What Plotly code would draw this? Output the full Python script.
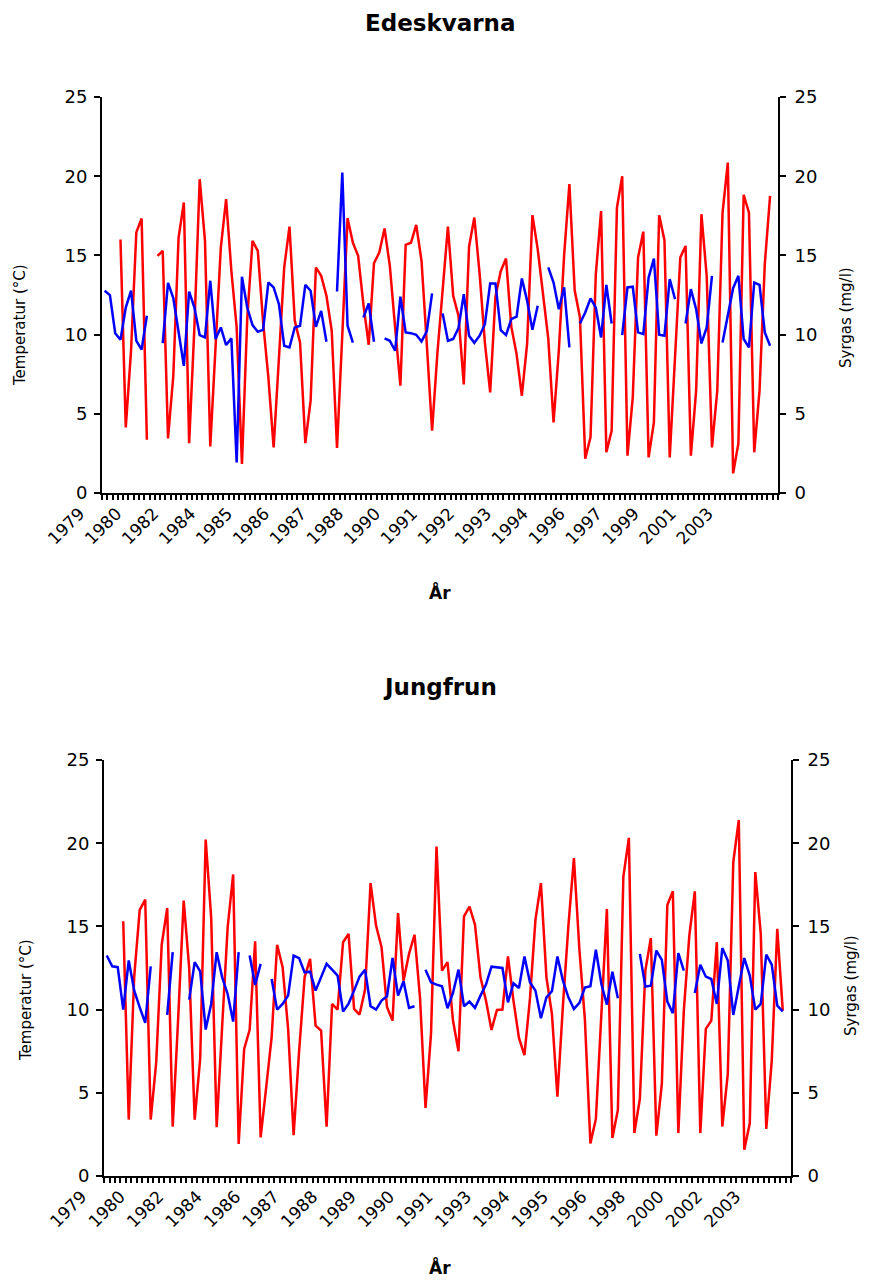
import plotly.graph_objects as go

# ---------------- data ----------------
N = None
top_title = "Edeskvarna"
bot_title = "Jungfrun"

top_labels = ["1979", "1980", "1982", "1984", "1985", "1986", "1987", "1988", "1990",
              "1991", "1992", "1993", "1994", "1996", "1997", "1999", "2001", "2003"]
bot_labels = ["1979", "1980", "1982", "1984", "1986", "1987", "1988", "1989", "1990",
              "1991", "1993", "1994", "1995", "1996", "1998", "2000", "2002", "2003"]
label_step = 7
top_n_categories = 128
bot_n_categories = 125

top_temp = [N, N, N, 16.0, 4.14, 9.0, 16.45, 17.33, 3.36, N,
            14.97, 15.29, 3.45, 7.4, 16.13, 18.34, 3.15, 10.5, 19.81, 15.92,
            2.94, 9.2, 15.5, 18.55, 14.0, 10.45, 1.83, 11.0, 15.92, 15.29,
            10.8, 7.3, 2.88, 8.5, 14.24, 16.82, 10.87, 9.5, 3.15, 5.83,
            14.24, 13.71, 12.45, 10.24, 2.84, 10.0, 17.35, 15.8, 14.97, 11.9,
            9.36, 14.5, 15.18, 16.7, 14.34, 10.45, 6.77, 15.67, 15.8, 16.93,
            14.66, 9.4, 3.93, 8.8, 12.8, 16.82, 12.45, 11.2, 6.85, 15.55,
            17.39, 13.85, 9.5, 6.35, 12.4, 14.0, 14.8, 10.5, 8.77, 6.14,
            9.45, 17.54, 15.4, 12.6, 9.75, 4.46, 9.0, 15.0, 19.5, 12.8,
            11.08, 2.16, 3.53, 13.8, 17.8, 2.57, 3.93, 18.0, 20.0, 2.36,
            6.04, 14.87, 16.5, 2.25, 4.46, 17.54, 15.96, 2.25, 8.77, 14.87,
            15.6, 2.36, 6.46, 17.6, 13.7, 2.88, 6.46, 17.7, 20.86, 1.24,
            3.13, 18.82, 17.7, 2.57, 6.46, 14.45, 18.76]

top_o2 = [12.77, 12.49, 10.09, 9.67, 11.71, 12.77, 9.61, 9.06, 11.19, N,
          N, 9.46, 13.27, 12.30, 10.24, 8.03, 12.72, 11.71, 9.97, 9.82,
          13.40, 9.72, 10.45, 9.34, 9.76, 1.93, 13.65, 11.71, 10.6, 10.18,
          10.3, 13.29, 12.98, 11.92, 9.3, 9.19, 10.45, 10.56, 13.14, 12.77,
          10.49, 11.5, 9.55, N, 12.72, 20.23, 10.56, 9.5, N, 11.08,
          11.97, 9.55, N, 9.76, 9.61, 8.98, 12.39, 10.14, 10.09, 9.99,
          9.57, 10.2, 12.6, N, 11.34, 9.61, 9.72, 10.41, 12.55, 9.93,
          9.48, 9.93, 10.66, 13.23, 13.23, 10.28, 9.97, 10.98, 11.13, 13.54,
          12.13, 10.3, 11.82, N, 14.24, 13.29, 11.6, 12.98, 9.19, N,
          10.7, 11.4, 12.28, 11.71, 9.82, 13.14, 10.7, N, 9.97, 12.98,
          13.02, 10.14, 10.03, 13.6, 14.8, 9.99, 9.93, 13.5, 12.24, N,
          10.7, 12.87, 11.6, 9.44, 10.45, 13.71, N, 9.5, 11.3, 12.93,
          13.71, 9.72, 9.19, 13.29, 13.14, 10.14, 9.3]

bot_temp = [N, N, N, 15.31, 3.39, 12.0, 15.99, 16.61, 3.39, 6.83,
            13.9, 16.1, 2.97, 9.5, 16.55, 12.5, 3.39, 7.03, 20.22, 15.55,
            2.93, 9.0, 14.95, 18.12, 1.92, 7.64, 8.78, 14.1, 2.32, 5.3,
            8.34, 13.9, 12.55, 8.84, 2.46, 7.5, 11.94, 13.05, 9.04, 8.74,
            2.97, 10.34, 10.0, 14.05, 14.55, 10.04, 9.7, 11.2, 17.6, 15.05,
            13.75, 10.14, 9.34, 15.8, 11.74, 13.35, 14.5, 10.7, 4.09, 8.54,
            19.8, 12.34, 12.85, 9.34, 7.5, 15.6, 16.19, 15.1, 11.94, 10.54,
            8.78, 9.98, 10.0, 13.2, 10.54, 8.3, 7.27, 10.64, 15.39, 17.6,
            11.94, 9.74, 4.77, 10.24, 15.05, 19.1, 13.6, 9.4, 1.96, 3.43,
            10.0, 16.05, 2.28, 3.97, 18.0, 20.32, 2.58, 4.63, 12.34, 14.3,
            2.42, 5.53, 16.29, 17.11, 2.58, 9.94, 14.45, 17.11, 2.58, 8.84,
            9.34, 14.05, 2.97, 6.13, 18.86, 21.4, 1.58, 3.17, 18.26, 14.55,
            2.83, 6.93, 14.85, 9.94]

bot_o2 = [13.25, 12.6, 12.55, 10.0, 12.95, 11.14, 10.14, 9.2, 12.6, N,
          N, 9.68, 13.45, N, N, 10.6, 12.85, 12.3, 8.8, 10.34,
          13.45, 11.94, 10.94, 9.28, 13.45, N, 13.25, 11.48, 12.75, N,
          11.84, 10.0, 10.34, 10.84, 13.25, 13.09, 12.24, 12.28, 11.14, 11.94,
          12.75, 12.4, 12.04, 9.88, 10.36, 11.14, 11.98, 12.4, 10.2, 10.0,
          10.54, 10.8, 13.1, 10.84, 11.7, 10.1, 10.2, N, 12.4, 11.64,
          11.5, 11.4, 10.08, 11.0, 12.4, 10.2, 10.48, 10.1, 10.84, 11.5,
          12.58, 12.54, 12.5, 10.44, 11.58, 11.3, 13.19, 11.64, 11.14, 9.48,
          10.74, 11.1, 13.19, 11.74, 10.74, 10.04, 10.4, 11.32, 11.4, 13.6,
          11.54, 10.3, 12.28, 10.68, N, N, N, 13.35, 11.38, 11.44,
          13.55, 12.99, 10.48, 9.78, 13.39, 12.34, N, 11.0, 12.7, 11.98,
          11.84, 10.34, 13.7, 12.95, 9.68, 11.4, 13.1, 12.04, 10.0, 10.34,
          13.3, 12.7, 10.24, 9.9]

# ---------------- figure ----------------
OFF = 8                      # page body margin of the html page
W, H = 870 - OFF, 1286 - 2 * OFF
FONT = "DejaVu Sans"
RED = "#ff0000"
BLUE = "#0000ff"

fig = go.Figure()

def px_x(p):
    return (p - OFF) / W

def px_y(p):
    return 1 - (p - OFF) / H

panels = [
    dict(temp=top_temp, o2=top_o2, labels=top_labels, n=top_n_categories,
         x0=102, x1=778, ytop=97, ybot=493, xa="x", ya="y", ya2="y2",
         title=top_title, title_y=23, xt_y=592,
         ytl_x=20, ytl_y=325, ytr_x=846, ytr_y=318),
    dict(temp=bot_temp, o2=bot_o2, labels=bot_labels, n=bot_n_categories,
         x0=104, x1=791, ytop=760, ybot=1176, xa="x2", ya="y3", ya2="y4",
         title=bot_title, title_y=687, xt_y=1267,
         ytl_x=26, ytl_y=1000, ytr_x=851, ytr_y=986),
]

layout_axes = {}
annotations = []
for k, p in enumerate(panels):
    xs = list(range(len(p["temp"])))
    fig.add_trace(go.Scatter(x=xs, y=p["temp"], mode="lines", xaxis=p["xa"], yaxis=p["ya"],
                             line=dict(color=RED, width=2.5), connectgaps=False,
                             name="Temperatur", showlegend=False))
    fig.add_trace(go.Scatter(x=list(range(len(p["o2"]))), y=p["o2"], mode="lines",
                             xaxis=p["xa"], yaxis=p["ya2"],
                             line=dict(color=BLUE, width=2.5), connectgaps=False,
                             name="Syrgas", showlegend=False))
    xdom = [px_x(p["x0"]), px_x(p["x1"])]
    ydom = [px_y(p["ybot"]), px_y(p["ytop"])]
    xname = "xaxis" if p["xa"] == "x" else "xaxis2"
    yname = "yaxis" if p["ya"] == "y" else "yaxis3"
    y2name = "yaxis2" if p["ya2"] == "y2" else "yaxis4"
    tickvals = [i * label_step for i in range(len(p["labels"]))]
    layout_axes[xname] = dict(
        domain=xdom, anchor=p["ya"], range=[-0.5, p["n"] - 0.5], automargin=False,
        tickmode="array", tickvals=tickvals, ticktext=p["labels"], tickangle=-45,
        ticks="", ticklabelshift=-25, ticklabelstandoff=2,
        showline=True, linecolor="black", linewidth=2, showgrid=False,
        zeroline=False, tickfont=dict(family=FONT, size=17, color="black"),
        minor=dict(tickmode="array", tickvals=[i - 0.5 for i in range(p["n"] + 1)],
                   ticks="outside", ticklen=5, tickcolor="black", tickwidth=1.5,
                   showgrid=False),
    )
    layout_axes[yname] = dict(
        domain=ydom, anchor=p["xa"], range=[0, 25], dtick=5, tick0=0, automargin=False,
        ticks="outside", ticklen=6, tickwidth=1.5, tickcolor="black",
        ticklabelstandoff=3,
        showline=True, linecolor="black", linewidth=2, showgrid=False, zeroline=False,
        tickfont=dict(family=FONT, size=18, color="black"),
    )
    layout_axes[y2name] = dict(
        domain=ydom, anchor=p["xa"], overlaying=p["ya"], side="right", range=[0, 25],
        dtick=5, tick0=0, ticks="outside", ticklen=6, tickwidth=1.5, tickcolor="black",
        ticklabelstandoff=5,
        showline=True, linecolor="black", linewidth=2, showgrid=False, zeroline=False,
        automargin=False, tickfont=dict(family=FONT, size=18, color="black"),
    )
    annotations += [
        dict(text="<b>" + p["title"] + "</b>", x=px_x(440), y=px_y(p["title_y"]),
             xref="paper", yref="paper", showarrow=False, xanchor="center", yanchor="middle",
             font=dict(family=FONT, size=23, color="black")),
        dict(text="<b>År</b>", x=px_x(440), y=px_y(p["xt_y"]), xref="paper", yref="paper",
             showarrow=False, xanchor="center", yanchor="middle",
             font=dict(family=FONT, size=17, color="black")),
        dict(text="Temperatur (°C)", x=px_x(p["ytl_x"]), y=px_y(p["ytl_y"]),
             xref="paper", yref="paper", showarrow=False, textangle=-90,
             xanchor="center", yanchor="middle",
             font=dict(family=FONT, size=15, color="black")),
        dict(text="Syrgas (mg/l)", x=px_x(p["ytr_x"]), y=px_y(p["ytr_y"]),
             xref="paper", yref="paper", showarrow=False, textangle=-90,
             xanchor="center", yanchor="middle",
             font=dict(family=FONT, size=15, color="black")),
    ]

fig.update_layout(
    width=W, height=H, margin=dict(l=0, r=0, t=0, b=0, autoexpand=False),
    paper_bgcolor="white", plot_bgcolor="white", showlegend=False,
    annotations=annotations, **layout_axes,
)

fig.write_html("out.html")
